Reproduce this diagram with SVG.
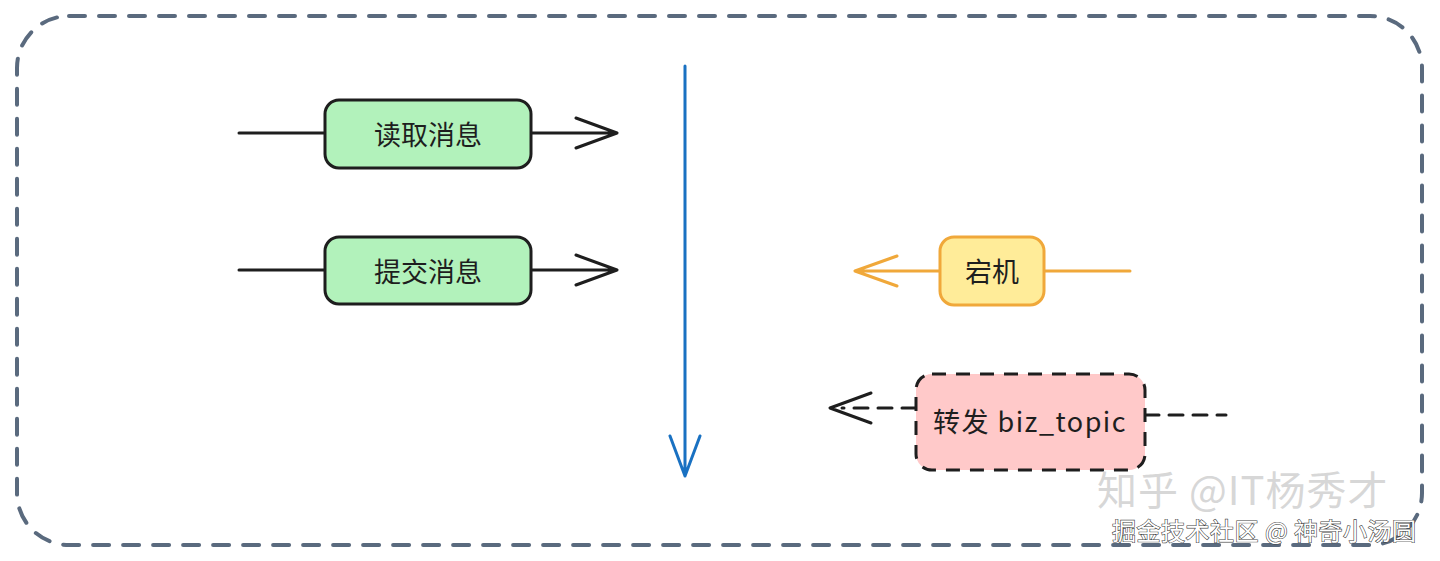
<svg xmlns="http://www.w3.org/2000/svg" width="1440" height="561" viewBox="0 0 1440 561">
<style>
.lbl{font-family:"Noto Sans CJK SC","Noto Sans",sans-serif;font-size:27px;fill:#1e1e1e;text-anchor:middle;dominant-baseline:central}
.blk{stroke:#1e1e1e;stroke-width:3;fill:none;stroke-linecap:round;stroke-linejoin:round}
.org{stroke:#f0a83a;stroke-width:3;fill:none;stroke-linecap:round;stroke-linejoin:round}
.blu{stroke:#1971c2;stroke-width:3;fill:none;stroke-linecap:round;stroke-linejoin:round}
.dsh{stroke-dasharray:14 10}
</style>
<rect width="1440" height="561" fill="#ffffff"/>
<g id="frame">
<rect x="17" y="16" width="1405" height="529" rx="52" fill="none" stroke="#5a6a7e" stroke-width="4" stroke-dasharray="16 14" stroke-linecap="round"/>
</g>
<g id="connectors">
<path class="blk" d="M239 133 H325 M531 133 H617 M576 118 L617 133 L576 148"/>
<path class="blk" d="M239 270 H325 M531 270 H617 M576 255 L617 270 L576 285"/>
<path class="blu" d="M685 66 V476 M670 436 L685 476 L700 436"/>
<path class="org" d="M1044 271 H1130 M940 271 H855 M897 256 L855 271 L897 286"/>
<path class="blk dsh" d="M1145 415 H1226"/>
<path class="blk dsh" d="M916 408 H842"/>
<path class="blk" d="M871 393 L830 408 L871 423"/>
</g>
<g id="node-read">
<rect x="325" y="100" width="206" height="68" rx="14" fill="#b2f2bb" stroke="#1e1e1e" stroke-width="3"/>
<text class="lbl" x="428" y="133">读取消息</text>
</g>
<g id="node-commit">
<rect x="325" y="237" width="206" height="67" rx="14" fill="#b2f2bb" stroke="#1e1e1e" stroke-width="3"/>
<text class="lbl" x="428" y="270">提交消息</text>
</g>
<g id="node-down">
<rect x="940" y="237" width="104" height="68" rx="14" fill="#ffec99" stroke="#f0a83a" stroke-width="3"/>
<text class="lbl" x="992" y="270">宕机</text>
</g>
<g id="node-forward">
<rect x="916" y="374" width="229" height="96" rx="16" fill="#ffc9c9" stroke="#1e1e1e" stroke-width="3" stroke-dasharray="14 10"/>
<text class="lbl" x="1030" y="420" style="font-size:27px;letter-spacing:1.5px">转发 biz_topic</text>
</g>
<g id="watermark">
<text x="1097" y="505" style="font-family:'Noto Sans CJK SC',sans-serif;font-size:40px;fill:#d0d0d0;fill-opacity:0.85;letter-spacing:1px">知乎 @IT杨秀才</text>
<text x="1112" y="540" style="font-family:'Noto Sans CJK SC',sans-serif;font-size:24px;fill:#ffffff;stroke:#444;stroke-width:1.2;paint-order:stroke;letter-spacing:0.5px">掘金技术社区 @ 神奇小汤圆</text>
</g>
</svg>
